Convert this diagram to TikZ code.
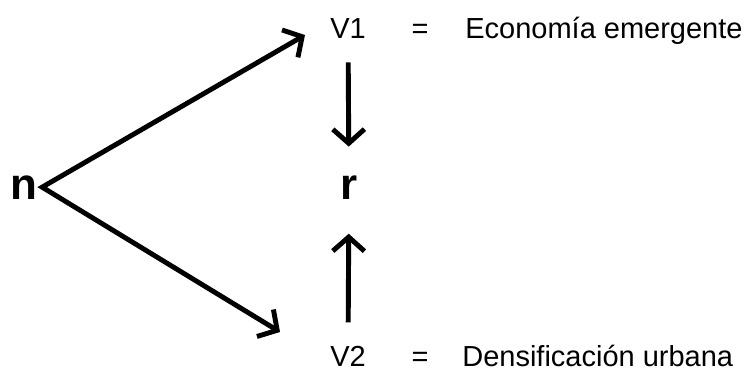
\documentclass[tikz,border=0pt]{standalone}
\usepackage{fontspec}
\setmainfont{Liberation Sans}
\usetikzlibrary{arrows.meta}
\tikzstyle{bigletter} = [
    font=\fontsize{25}{30}\selectfont\bfseries,
    inner sep=2.5pt
]
\tikzstyle{varname} = [
    font=\fontsize{16.5}{20}\selectfont,
    inner sep=0pt
]
\tikzstyle{arrow} = [line width=2.8pt,->,>={Straight Barb[length=8pt,width=18pt]}]

\begin{document}
\begin{tikzpicture}

\useasboundingbox (0,0) rectangle (14.92,7.44);

\node (n) [bigletter, anchor=base] at (0.48,3.46) {n};
\node (r) [bigletter, anchor=base] at (6.98,3.46) {r};

\node (v1) [varname, anchor=base] at (6.96,6.68) {V1};
\node (eq1) [varname, anchor=base] at (8.4,6.68) {=};
\node (def1) [varname, anchor=base west] at (9.3,6.68) {Economía emergente};

\node (v2) [varname, anchor=base] at (6.96,0.12) {V2};
\node (eq2) [varname, anchor=base] at (8.4,0.12) {=};
\node (def2) [varname, anchor=base west] at (9.24,0.12) {Densificación urbana};

\coordinate (tip1) at (6.1,6.74);
\coordinate (tip2) at (5.6,0.8);

\draw [arrow, <->] (tip1) -- (n.east) -- (tip2);

\draw [arrow, shorten <=0.48cm, shorten >=0.48cm] (v1) -- (r);
\draw [arrow, shorten <=0.46cm, shorten >=0.6cm] (v2) -- (r);

\end{tikzpicture}
\end{document}
